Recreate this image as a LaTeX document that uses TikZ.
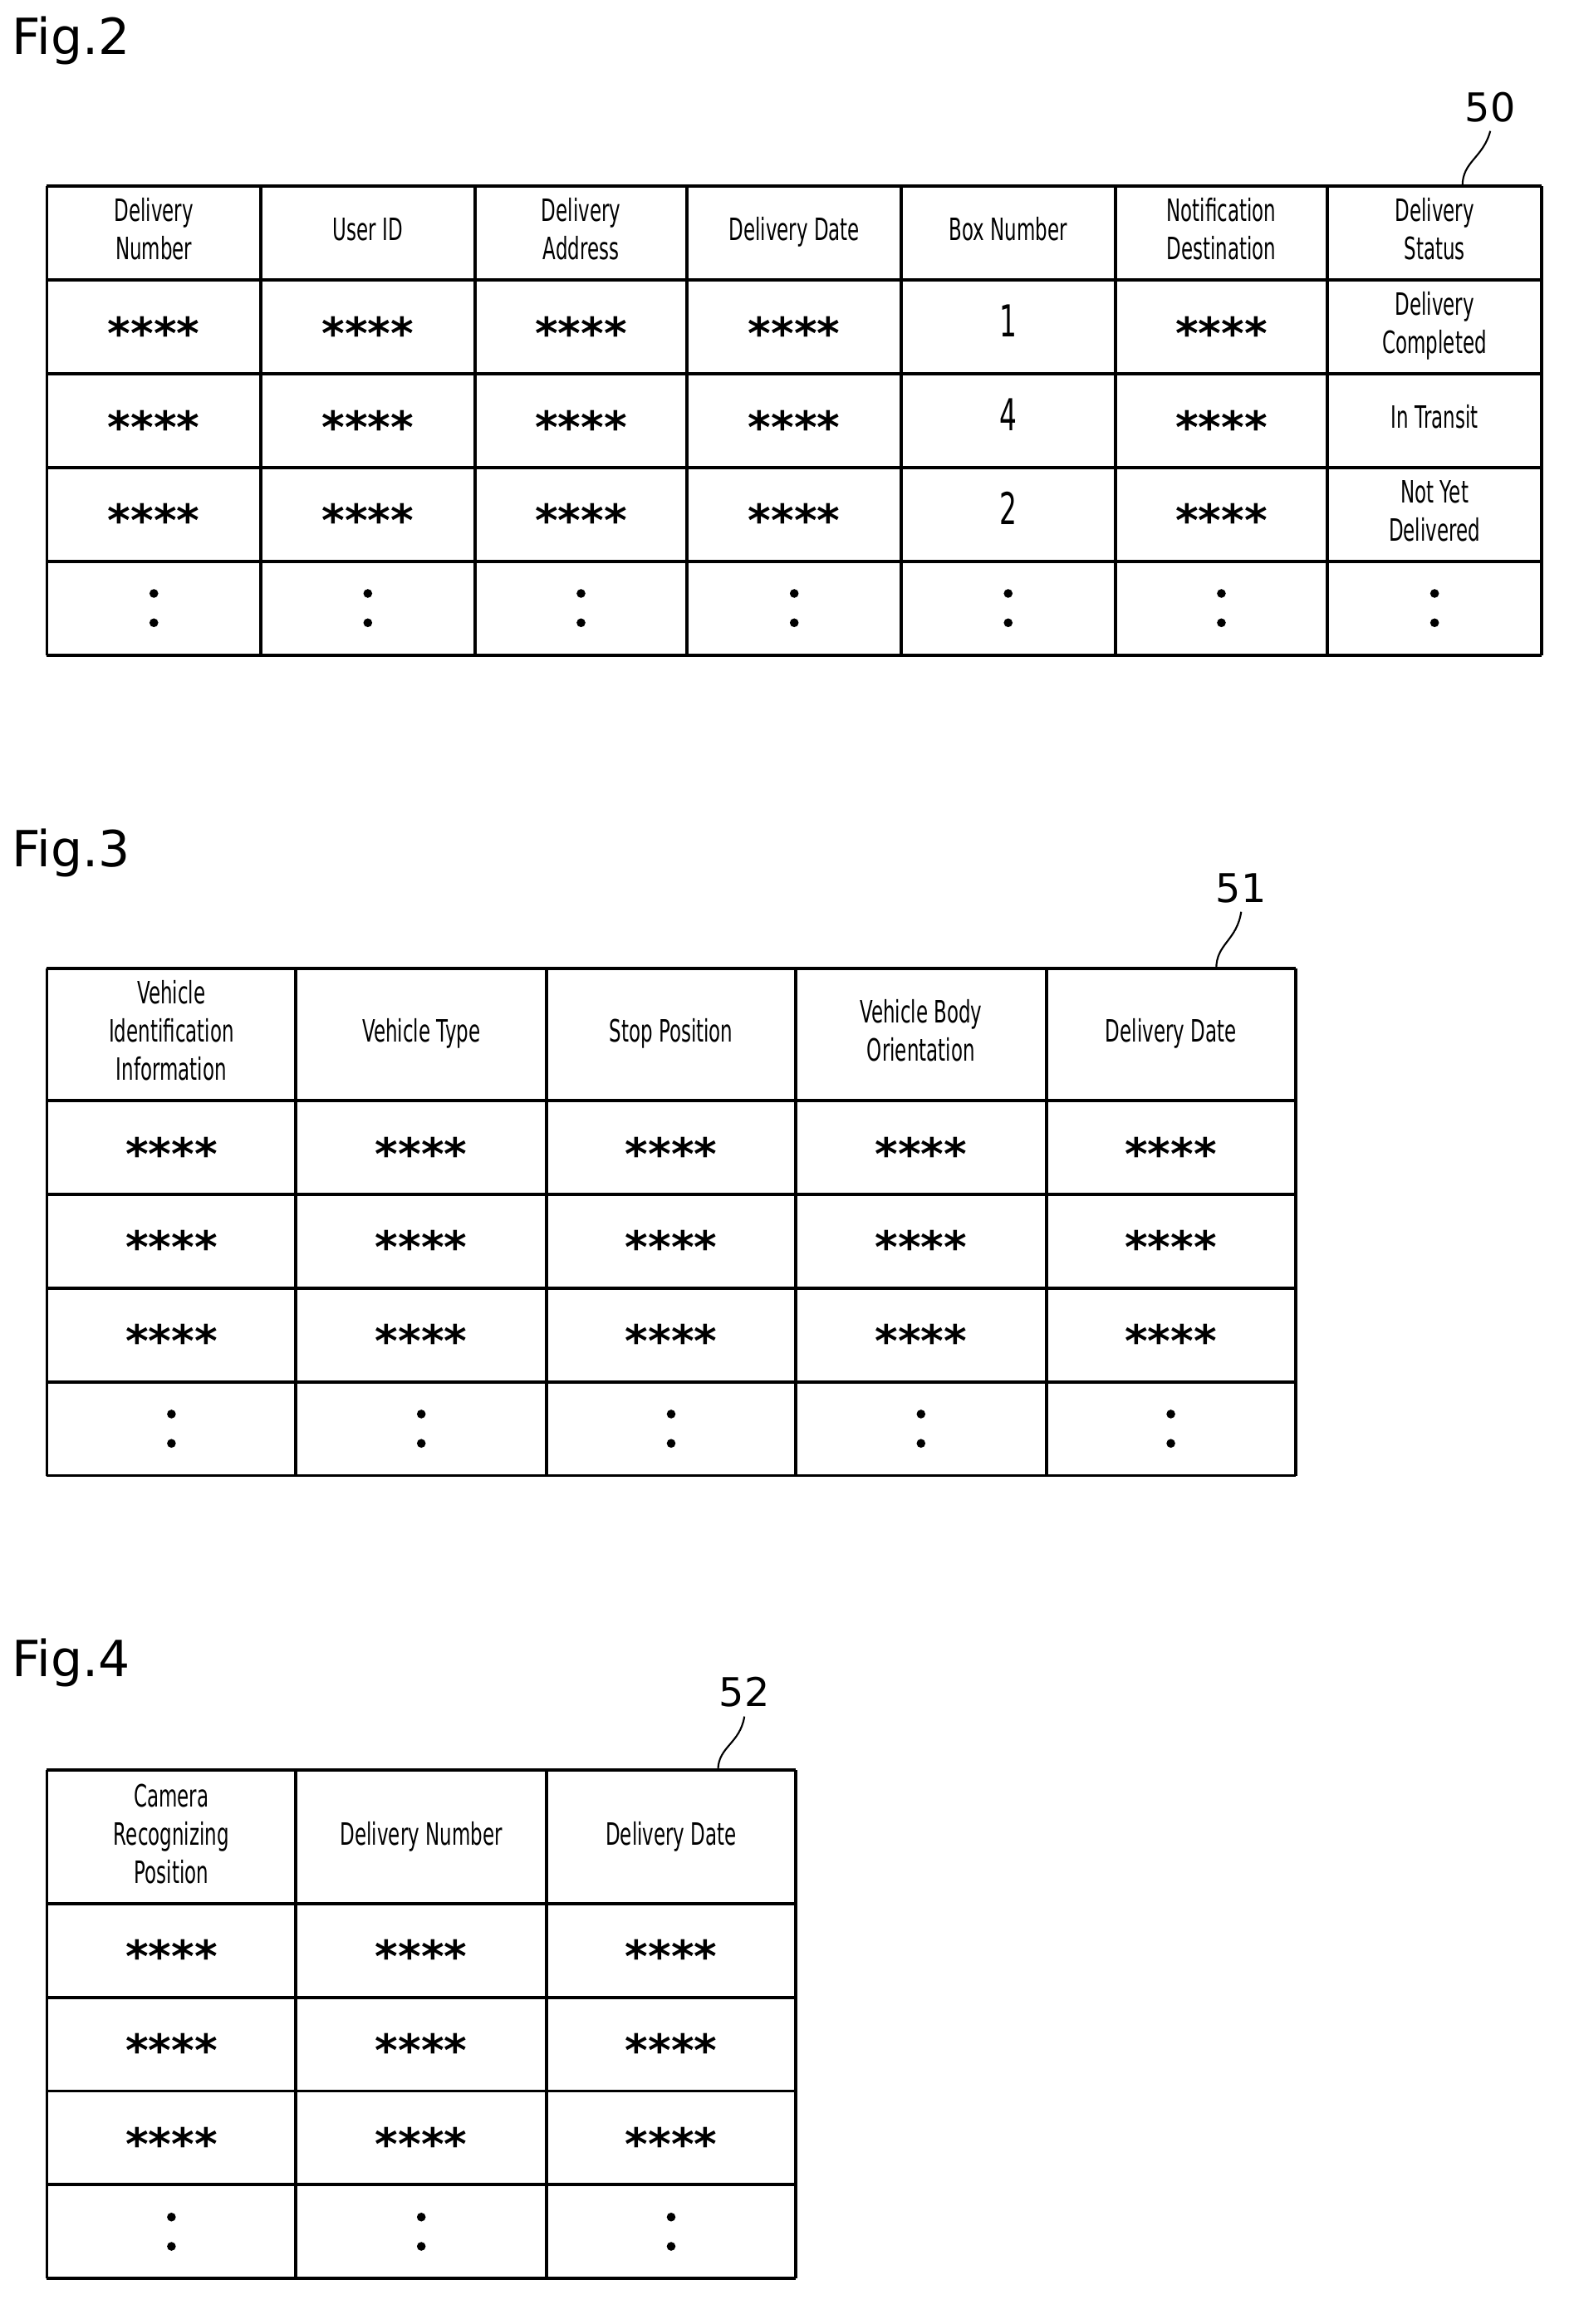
\documentclass[tikz,border=0pt]{standalone}
\usepackage{fontspec}
\setmainfont{DejaVu Sans}
\usepackage{graphicx}
\newcommand{\cnd}[1]{\scalebox{0.62}[1]{\begin{tabular}{@{}c@{}}#1\end{tabular}}}
\begin{document}
\begin{tikzpicture}[x=1pt,y=-1pt,
  grid/.style={line width=2.2pt},
  hd/.style={font=\fontsize{21}{26}\selectfont,inner sep=0},
  st/.style={font=\fontsize{30}{30}\selectfont\bfseries,inner sep=0},
  fig/.style={font=\fontsize{34}{34}\selectfont,anchor=west,inner sep=0},
  ref/.style={font=\fontsize{27}{27}\selectfont,inner sep=0},
  dot/.style={circle,fill,inner sep=0,minimum size=6pt}]
\useasboundingbox (0,0) rectangle (1077,1586);
% ---------- Fig.2 ----------
\node[fig] (f2) at (8,28) {Fig.2};
\def\xs{{32,178,324,469,615,761,906,1052}}
\foreach \y in {127,191,255,319,383,447} \draw[grid] (32,\y) -- (1052,\y);
\foreach \x in {32,178,324,469,615,761,906,1052} \draw[grid] (\x,127) -- (\x,447);
\foreach \t [count=\i] in {{Delivery\\Number},{User ID},{Delivery\\Address},{Delivery Date},{Box Number},{Notification\\Destination},{Delivery\\Status}}{
  \pgfmathsetmacro\xa{\xs[\i-1]}\pgfmathsetmacro\xb{\xs[\i]}
  \node[hd] (h2\i) at ({(\xa+\xb)/2},159) {\cnd{\t}};
  \node[dot] (d2a\i) at ({(\xa+\xb)/2},405) {};
  \node[dot] (d2b\i) at ({(\xa+\xb)/2},425) {};
}
\foreach \r/\y in {1/223,2/287,3/351}{
  \foreach \i in {1,2,3,4,6}{
    \pgfmathsetmacro\xa{\xs[\i-1]}\pgfmathsetmacro\xb{\xs[\i]}
    \node[st] (s2\r\i) at ({(\xa+\xb)/2},\y+4) {****};
  }
}
\node[hd] (b1) at (688,223) {\cnd{\fontsize{30}{30}\selectfont 1}};
\node[hd] (b4) at (688,287) {\cnd{\fontsize{30}{30}\selectfont 4}};
\node[hd] (b2) at (688,351) {\cnd{\fontsize{30}{30}\selectfont 2}};
\node[hd] (ds1) at (979,223) {\cnd{Delivery\\Completed}};
\node[hd] (ds2) at (979,287) {\cnd{In Transit}};
\node[hd] (ds3) at (979,351) {\cnd{Not Yet\\Delivered}};
\node[ref] (r50) at (1017,73) {50};
\coordinate (c50) at (998,127);
\draw[line width=1.2pt] (r50.south) ++(0,6) .. controls (1012,108) and (998,110) .. (c50);
% ---------- Fig.3 ----------
\node[fig] (f3) at (8,582) {Fig.3};
\def\xt{{32,202,373,543,714,884}}
\foreach \y in {661,751,815,879,943,1007} \draw[grid] (32,\y) -- (884,\y);
\foreach \x in {32,202,373,543,714,884} \draw[grid] (\x,661) -- (\x,1007);
\foreach \t [count=\i] in {{Vehicle\\Identification\\Information},{Vehicle Type},{Stop Position},{Vehicle Body\\Orientation},{Delivery Date}}{
  \pgfmathsetmacro\xa{\xt[\i-1]}\pgfmathsetmacro\xb{\xt[\i]}
  \node[hd] (h3\i) at ({(\xa+\xb)/2},706) {\cnd{\t}};
  \foreach \r/\y in {1/783,2/847,3/911} \node[st] (s3\r\i) at ({(\xa+\xb)/2},\y+4) {****};
  \node[dot] (d3a\i) at ({(\xa+\xb)/2},965) {};
  \node[dot] (d3b\i) at ({(\xa+\xb)/2},985) {};
}
\node[ref] (r51) at (847,606) {51};
\coordinate (c51) at (830,661);
\draw[line width=1.2pt] (r51.south) ++(0,6) .. controls (844,642) and (830,644) .. (c51);
% ---------- Fig.4 ----------
\node[fig] (f4) at (8,1135) {Fig.4};
\foreach \y in {1208,1299,1363,1427,1491,1555} \draw[grid] (32,\y) -- (543,\y);
\foreach \x in {32,202,373,543} \draw[grid] (\x,1208) -- (\x,1555);
\foreach \t [count=\i] in {{Camera\\Recognizing\\Position},{Delivery Number},{Delivery Date}}{
  \pgfmathsetmacro\xa{\xt[\i-1]}\pgfmathsetmacro\xb{\xt[\i]}
  \node[hd] (h4\i) at ({(\xa+\xb)/2},1254) {\cnd{\t}};
  \foreach \r/\y in {1/1331,2/1395,3/1459} \node[st] (s4\r\i) at ({(\xa+\xb)/2},\y+4) {****};
  \node[dot] (d4a\i) at ({(\xa+\xb)/2},1513) {};
  \node[dot] (d4b\i) at ({(\xa+\xb)/2},1533) {};
}
\node[ref] (r52) at (508,1155) {52};
\coordinate (c52) at (490,1208);
\draw[line width=1.2pt] (r52.south) ++(0,6) .. controls (505,1190) and (490,1192) .. (c52);
\end{tikzpicture}
\end{document}
